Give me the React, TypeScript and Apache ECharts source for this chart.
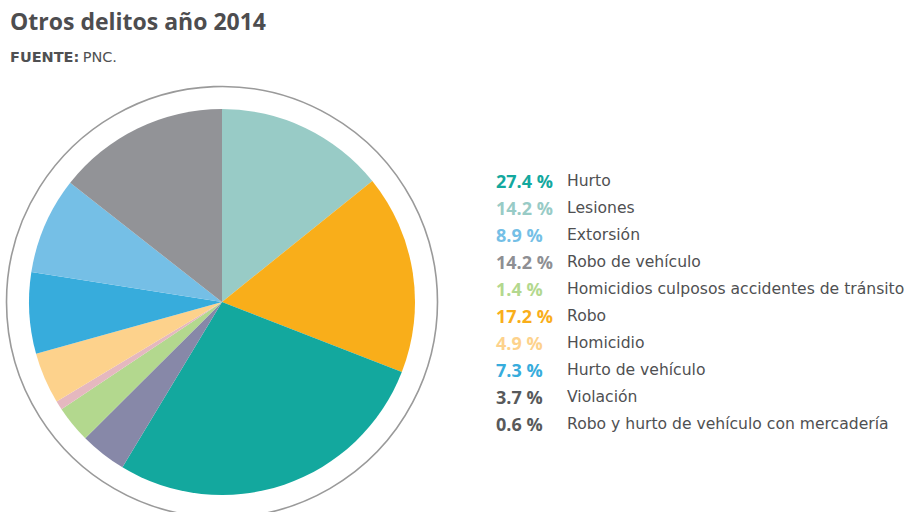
import React, { useEffect, useRef } from "react";
import * as echarts from "echarts";

// Slices in drawing order (clockwise from 12 o'clock)
const sliceNames = [
  "Lesiones",
  "Robo",
  "Hurto",
  "Violación",
  "Homicidios culposos accidentes de tránsito",
  "Robo y hurto de vehículo con mercadería",
  "Homicidio",
  "Hurto de vehículo",
  "Extorsión",
  "Robo de vehículo",
];
const sliceValues = [14.2, 16.7, 27.7, 3.9, 3.1, 0.75, 4.3, 6.8, 8.1, 14.4];
const sliceColors = [
  "#98cbc6",
  "#f9ae1a",
  "#13a89e",
  "#8788a8",
  "#b3d88e",
  "#e5b8bf",
  "#fdd28c",
  "#37acdc",
  "#75bfe6",
  "#929397",
];

// Legend as printed
const legendNames = [
  "Hurto",
  "Lesiones",
  "Extorsión",
  "Robo de vehículo",
  "Homicidios culposos accidentes de tránsito",
  "Robo",
  "Homicidio",
  "Hurto de vehículo",
  "Violación",
  "Robo y hurto de vehículo con mercadería",
];
const legendPct = ["27.4", "14.2", "8.9", "14.2", "1.4", "17.2", "4.9", "7.3", "3.7", "0.6"];
const legendPctColors = [
  "#13a89e",
  "#98cbc6",
  "#75bfe6",
  "#8e8f93",
  "#b3d88e",
  "#f9ae1a",
  "#fdd28c",
  "#37acdc",
  "#58595b",
  "#58595b",
];

const FONT = "'Open Sans', 'DejaVu Sans', sans-serif";
const WIDE = "'DejaVu Sans', sans-serif";
const TEXT = "#4f5052";

export default function App() {
  const ref = useRef<HTMLDivElement>(null);
  useEffect(() => {
    if (!ref.current) return;
    const chart = echarts.init(ref.current, undefined, { renderer: "svg" });
    const cx = 222;
    const cy = 302;
    const legendTexts = legendNames.map((n, i) => ({
      type: "text",
      left: 496,
      top: 171.5 + i * 27,
      style: {
        text: `{p${i}|${legendPct[i]} %}{n|${n}}`,
        rich: {
          [`p${i}`]: {
            fontFamily: FONT,
            fontWeight: 700,
            fontSize: 18,
            fill: legendPctColors[i],
            width: 71,
          },
          n: {
            fontFamily: WIDE,
            fontWeight: 400,
            fontSize: 15.6,
            fill: TEXT,
          },
        },
      },
    }));
    chart.setOption({
      animation: false,
      backgroundColor: "#ffffff",
      title: {
        text: "Otros delitos año 2014",
        left: 5,
        top: 4,
        textStyle: { fontFamily: FONT, fontWeight: 700, fontSize: 23, color: "#4d4d4f" },
      },
      graphic: [
        {
          type: "text",
          left: 10,
          top: 49,
          style: {
            text: "{b|FUENTE:} {r|PNC.}",
            rich: {
              b: { fontFamily: WIDE, fontWeight: 700, fontSize: 14.5, fill: TEXT },
              r: { fontFamily: WIDE, fontWeight: 400, fontSize: 14.5, fill: TEXT },
            },
          },
        },
        {
          type: "circle",
          shape: { cx, cy, r: 215.5 },
          style: { fill: "none", stroke: "#9a9a9a", lineWidth: 1.6 },
          z: 0,
        },
        ...legendTexts,
      ],
      series: [
        {
          type: "pie",
          center: [cx, cy],
          radius: [0, 193],
          startAngle: 90,
          clockwise: true,
          label: { show: false },
          labelLine: { show: false },
          emphasis: { disabled: true },
          itemStyle: { borderWidth: 0 },
          data: sliceNames.map((n, i) => ({
            name: n,
            value: sliceValues[i],
            itemStyle: { color: sliceColors[i] },
          })),
        },
      ],
    });
    return () => chart.dispose();
  }, []);
  return (
    <div
      ref={ref}
      style={{ position: "fixed", left: 0, top: 0, width: 906, height: 512 }}
    />
  );
}
